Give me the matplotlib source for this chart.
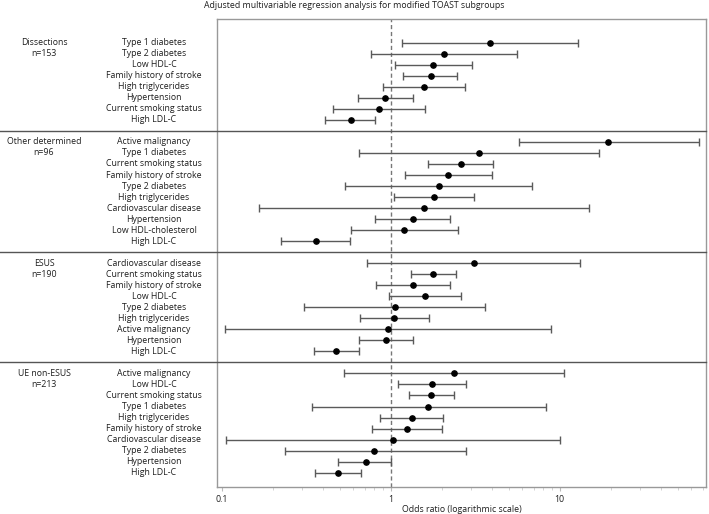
import matplotlib
matplotlib.use("Agg")
import matplotlib.pyplot as plt
from matplotlib.transforms import blended_transform_factory
from matplotlib.ticker import LogLocator, NullFormatter, FixedLocator, FixedFormatter

plt.rcParams['font.family'] = ['Open Sans', 'DejaVu Sans']

title = "Adjusted multivariable regression analysis for modified TOAST subgroups"
xlabel = "Odds ratio (logarithmic scale)"

groups = ["Dissections", "Other determined", "ESUS", "UE non-ESUS"]
group_n = ["n=153", "n=96", "n=190", "n=213"]

diss_labels = ["Type 1 diabetes", "Type 2 diabetes", "Low HDL-C", "Family history of stroke",
               "High triglycerides", "Hypertension", "Current smoking status", "High LDL-C"]
diss_or = [3.87, 2.07, 1.79, 1.72, 1.57, 0.93, 0.85, 0.58]
diss_lo = [1.16, 0.76, 1.06, 1.19, 0.90, 0.64, 0.456, 0.41]
diss_hi = [12.8, 5.59, 3.01, 2.48, 2.75, 1.35, 1.60, 0.81]

oth_labels = ["Active malignancy", "Type 1 diabetes", "Current smoking status", "Family history of stroke",
              "Type 2 diabetes", "High triglycerides", "Cardiovascular disease", "Hypertension",
              "Low HDL-cholesterol", "High LDL-C"]
oth_or = [19.4, 3.33, 2.59, 2.19, 1.93, 1.80, 1.57, 1.35, 1.20, 0.36]
oth_lo = [5.72, 0.65, 1.66, 1.22, 0.54, 1.04, 0.166, 0.81, 0.58, 0.225]
oth_hi = [66.4, 17.0, 4.05, 3.96, 6.86, 3.11, 14.9, 2.25, 2.49, 0.574]

esus_labels = ["Cardiovascular disease", "Current smoking status", "Family history of stroke", "Low HDL-C",
               "Type 2 diabetes", "High triglycerides", "Active malignancy", "Hypertension", "High LDL-C"]
esus_or = [3.10, 1.79, 1.35, 1.60, 1.056, 1.05, 0.968, 0.94, 0.477]
esus_lo = [0.72, 1.31, 0.815, 0.98, 0.308, 0.658, 0.105, 0.65, 0.35]
esus_hi = [13.2, 2.44, 2.24, 2.62, 3.63, 1.68, 8.89, 1.36, 0.65]

ue_labels = ["Active malignancy", "Low HDL-C", "Current smoking status", "Type 1 diabetes",
             "High triglycerides", "Family history of stroke", "Cardiovascular disease",
             "Type 2 diabetes", "Hypertension", "High LDL-C"]
ue_or = [2.38, 1.76, 1.74, 1.67, 1.33, 1.25, 1.03, 0.80, 0.71, 0.49]
ue_lo = [0.53, 1.11, 1.28, 0.34, 0.87, 0.78, 0.106, 0.236, 0.49, 0.355]
ue_hi = [10.6, 2.78, 2.38, 8.33, 2.04, 2.00, 10.0, 2.78, 1.01, 0.67]

group_data = [
    (diss_labels, diss_or, diss_lo, diss_hi),
    (oth_labels, oth_or, oth_lo, oth_hi),
    (esus_labels, esus_or, esus_lo, esus_hi),
    (ue_labels, ue_or, ue_lo, ue_hi),
]

W, H = 709, 514
fig = plt.figure(figsize=(W / 100, H / 100), dpi=100)
ax_l, ax_r, ax_t, ax_b = 217, 706, 19, 487
ax = fig.add_axes([ax_l / W, 1 - ax_b / H, (ax_r - ax_l) / W, (ax_b - ax_t) / H])
ax.set_xscale('log')
ax.set_xlim(0.0938, 73.4)
ax.set_ylim(42.3, -0.15)

fs = 6.3
tc = '#1e1e1e'
trans_fy = blended_transform_factory(fig.transFigure, ax.transData)

row = 2
for gi, (labels, ors, los, his) in enumerate(group_data):
    ys = list(range(row, row + len(labels)))
    ax.errorbar(ors, ys, xerr=[[o - l for o, l in zip(ors, los)], [h - o for o, h in zip(ors, his)]],
                fmt='o', color='black', ms=3.8, ecolor='#5a5a5a', elinewidth=1.0,
                capsize=3.2, capthick=1.0, zorder=3)
    for y, lab in zip(ys, labels):
        ax.text(154 / W, y, lab, transform=trans_fy, ha='center', va='center', fontsize=fs, color=tc)
    ax.text(44 / W, ys[0], groups[gi], transform=trans_fy, ha='center', va='center', fontsize=fs, color=tc)
    ax.text(44 / W, ys[1], group_n[gi], transform=trans_fy, ha='center', va='center', fontsize=fs, color=tc)
    row = ys[-1] + 2
    if gi < len(group_data) - 1:
        sep = ys[-1] + 1
        ax.plot([0, ax_r / W], [sep, sep], transform=trans_fy, color='#555555', lw=1.0, clip_on=False, zorder=4)

ax.axvline(1, color='#777777', lw=1.0, ls=(0, (3, 2)), zorder=2)

for s in ax.spines.values():
    s.set_color('#999999')
    s.set_linewidth(1.0)

ax.set_yticks([])
ax.xaxis.set_major_locator(FixedLocator([0.1, 1, 10]))
ax.xaxis.set_major_formatter(FixedFormatter(["0.1", "1", "10"]))
ax.xaxis.set_minor_locator(LogLocator(base=10, subs=range(2, 10)))
ax.xaxis.set_minor_formatter(NullFormatter())
ax.tick_params(axis='x', which='major', length=3, color='#bbbbbb', labelsize=fs, labelcolor=tc, pad=3)
ax.tick_params(axis='x', which='minor', length=2, color='#cccccc')

fig.text(0.5, 1 - 5.5 / H, title, ha='center', va='center', fontsize=fs, color=tc)
fig.text((ax_l + ax_r) / 2 / W, 1 - 509 / H, xlabel, ha='center', va='center', fontsize=fs, color=tc)

fig.savefig("out.png", dpi=100)
